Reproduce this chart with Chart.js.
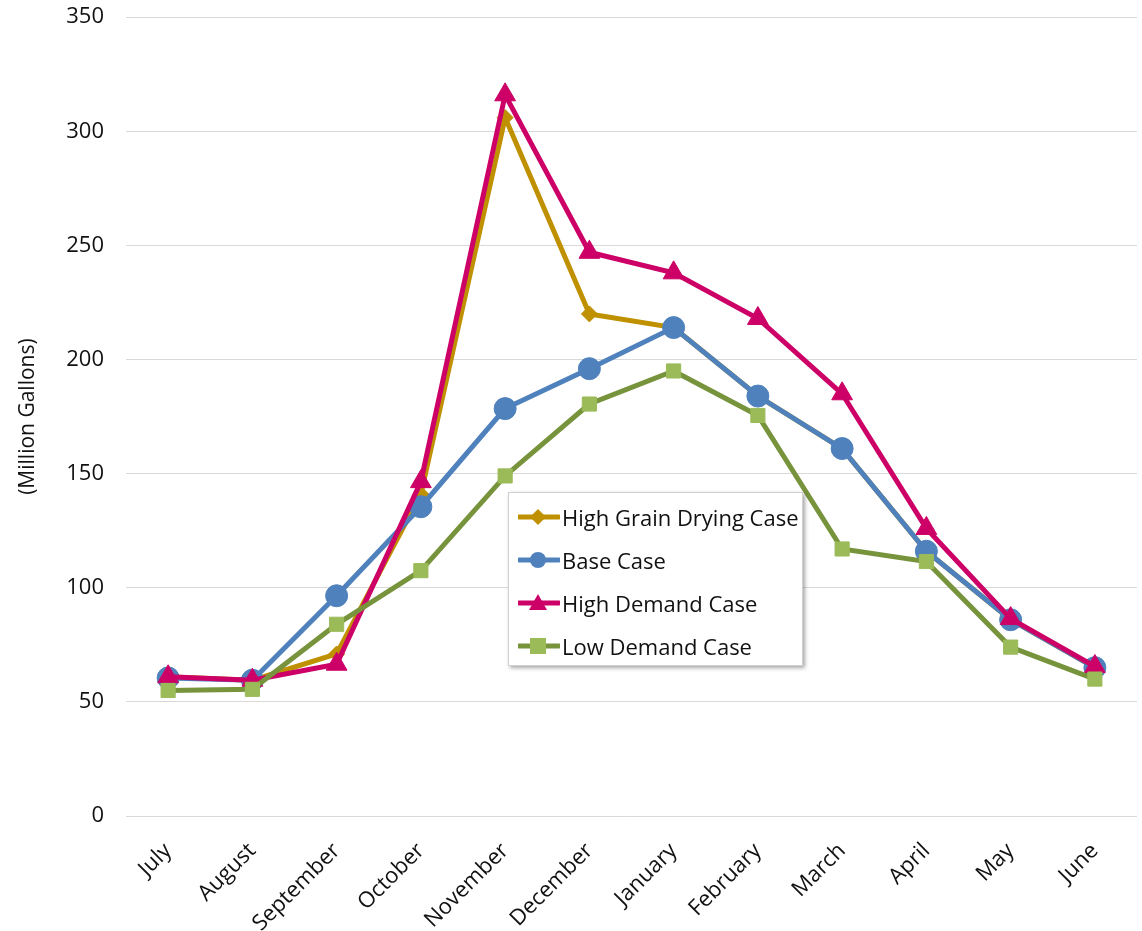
<!DOCTYPE html>
<html>
<head>
<meta charset="utf-8">
<script src="https://cdn.jsdelivr.net/npm/chart.js@4.4.1/dist/chart.umd.min.js"></script>
<style>
    body { margin: 0; background: #ffffff; }
    .wrap { position: relative; width: 1142px; height: 931px; overflow: hidden; }
    #chart { position: absolute; left: 0; top: -18px; }
    .legend {
        position: absolute; left: 508px; top: 492px; width: 295px; height: 174px;
        background: #fff; border: 1px solid #d0d0d0;
        box-shadow: 2px 2px 4px rgba(0,0,0,0.35);
        font-family: "Open Sans", "Noto Sans", sans-serif; font-size: 22px; color: #111;
        box-sizing: border-box; padding-top: 2px;
    }
    .legend-row { display: flex; align-items: center; height: 43px; padding-left: 9px; white-space: nowrap; }
    .legend-row svg { margin-right: 2px; flex: none; }
</style>
</head>
<body>
<div class="wrap">
    <canvas id="chart" width="1150" height="949"></canvas>
    <div class="legend" id="legend"></div>
</div>
<script>
const months = ["July", "August", "September", "October", "November", "December",
    "January", "February", "March", "April", "May", "June"];
const yTicks = [0, 50, 100, 150, 200, 250, 300, 350];

const highGrainDrying = [61, 59.5, 71, 141, 306, 220, 214, 184, 161, 116, 86, 65];
const baseCase = [60.5, 59.5, 96.5, 135.5, 178.5, 196, 214, 184, 161, 116, 86, 65];
const highDemand = [61, 59.5, 66.5, 146.5, 316, 247, 238, 218, 185, 126, 86.5, 65.5];
const lowDemand = [55, 55.5, 84, 107.5, 149, 180.5, 195, 175.5, 117, 111.5, 74, 60];

const seriesNames = ["High Grain Drying Case", "Base Case", "High Demand Case", "Low Demand Case"];

document.addEventListener("DOMContentLoaded", function () {
    const fontFamily = "'Open Sans', 'Noto Sans', sans-serif";

    const styles = [
        { line: "#BF9000", fill: "#BF9000", point: "rectRot", radius: 8, order: 4 },
        { line: "#4F81BD", fill: "#4F81BD", point: "circle", radius: 11, order: 3 },
        { line: "#CC0066", fill: "#CC0066", point: "triangle", radius: 12, order: 2 },
        { line: "#77933C", fill: "#9BBB59", point: "rect", radius: 10, order: 1 }
    ];
    const dataSeries = [highGrainDrying, baseCase, highDemand, lowDemand];

    const datasets = dataSeries.map(function (values, i) {
        const s = styles[i];
        return {
            label: seriesNames[i],
            data: values,
            borderColor: s.line,
            backgroundColor: s.fill,
            borderWidth: 5,
            pointStyle: s.point,
            pointRadius: s.radius,
            pointBackgroundColor: s.fill,
            pointBorderColor: s.fill,
            pointBorderWidth: 1,
            tension: 0,
            order: s.order
        };
    });

    new Chart(document.getElementById("chart"), {
        type: "line",
        data: { labels: months, datasets: datasets },
        options: {
            responsive: false,
            animation: false,
            layout: { padding: { top: 0, right: 12, left: 11, bottom: 0 } },
            plugins: { legend: { display: false }, tooltip: { enabled: false } },
            scales: {
                x: {
                    offset: true,
                    grid: { display: false },
                    border: { display: false },
                    ticks: {
                        color: "#111",
                        font: { family: fontFamily, size: 22 },
                        maxRotation: 45,
                        minRotation: 45,
                        padding: 14,
                        labelOffset: 0
                    },
                    afterFit: function (scale) { scale.height = 115; }
                },
                y: {
                    min: 0,
                    max: 350,
                    afterBuildTicks: function (scale) {
                        scale.ticks = yTicks.map(function (v) { return { value: v }; });
                    },
                    grid: { color: "#D9D9D9", lineWidth: 1, drawTicks: false },
                    border: { display: false },
                    ticks: {
                        color: "#111",
                        font: { family: fontFamily, size: 22 },
                        padding: 22
                    },
                    title: {
                        display: true,
                        text: "(Million Gallons)",
                        color: "#111",
                        font: { family: fontFamily, size: 21 }
                    },
                    afterFit: function (scale) { scale.width = 115; }
                }
            }
        }
    });

    // legend drawn as html so it can sit inside the plot
    const legend = document.getElementById("legend");
    styles.forEach(function (s, i) {
        let marker = "";
        if (s.point === "rectRot") {
            marker = '<polygon points="20,2 28,10 20,18 12,10" fill="' + s.fill + '"/>';
        } else if (s.point === "circle") {
            marker = '<circle cx="20" cy="10" r="8" fill="' + s.fill + '"/>';
        } else if (s.point === "triangle") {
            marker = '<polygon points="20,1 29,17 11,17" fill="' + s.fill + '"/>';
        } else {
            marker = '<rect x="12" y="2" width="16" height="16" fill="' + s.fill + '"/>';
        }
        const row = document.createElement("div");
        row.className = "legend-row";
        row.innerHTML = '<svg width="42" height="20"><line x1="1" y1="10" x2="41" y2="10" stroke="' +
            s.line + '" stroke-width="5" stroke-linecap="round"/>' + marker + '</svg><span>' +
            seriesNames[i] + '</span>';
        legend.appendChild(row);
    });
});
</script>
</body>
</html>
